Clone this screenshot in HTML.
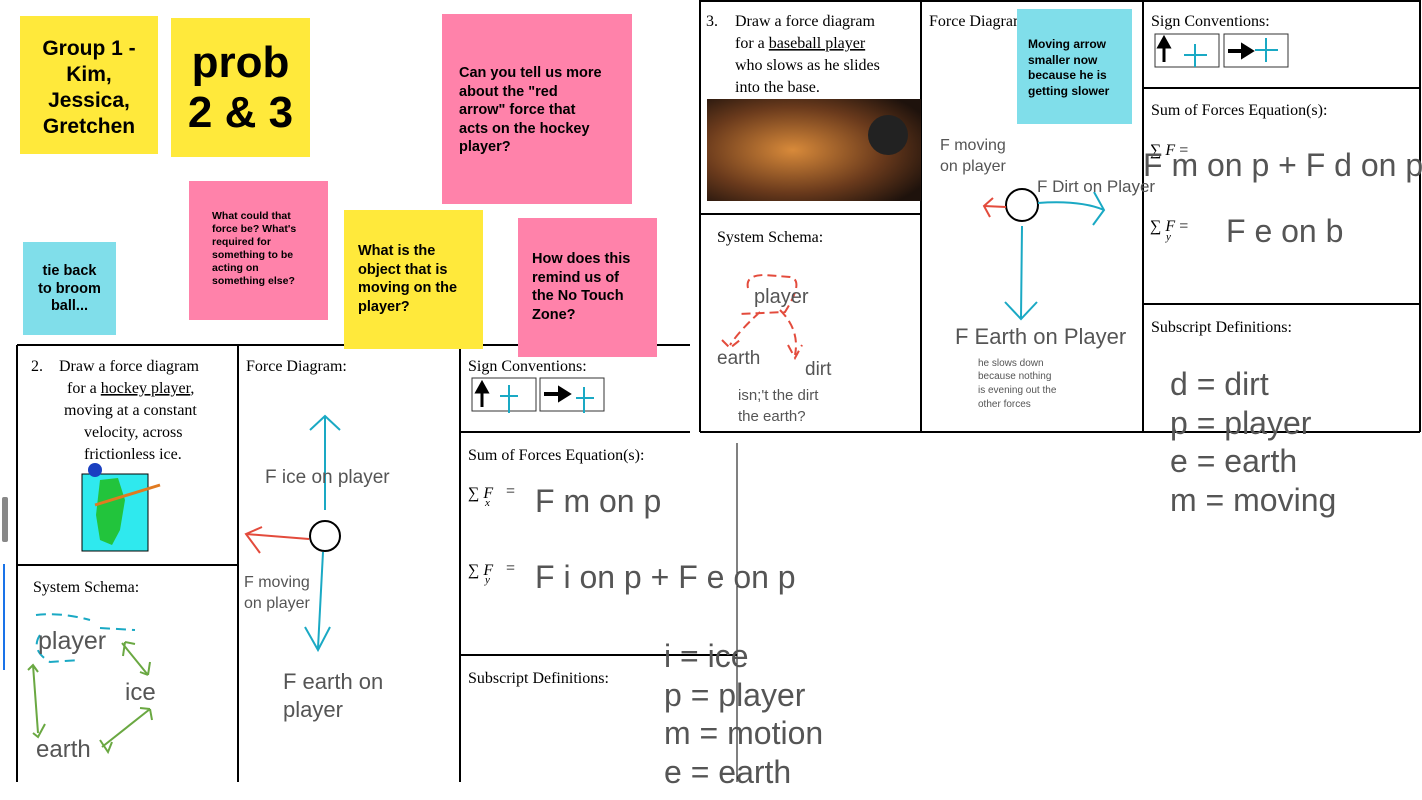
<!DOCTYPE html>
<html><head><meta charset="utf-8"><style>
html,body{margin:0;padding:0;background:#fff;}
body{width:1422px;height:800px;overflow:hidden;position:relative;font-family:"Liberation Sans",sans-serif;}
.n{position:absolute;font-weight:bold;color:#000;box-sizing:border-box;white-space:nowrap;}
</style></head><body>
<svg width="1422" height="800" style="position:absolute;left:0;top:0" font-family="Liberation Sans, sans-serif">
<g stroke="#000" stroke-width="2" fill="none">
<line x1="17" y1="345" x2="690" y2="345"/>
<line x1="17" y1="345" x2="17" y2="782"/>
<line x1="238" y1="345" x2="238" y2="782"/>
<line x1="460" y1="345" x2="460" y2="782"/>
<line x1="17" y1="565" x2="238" y2="565"/>
<line x1="460" y1="432" x2="690" y2="432"/>
<line x1="460" y1="655" x2="737" y2="655"/>
<line x1="737" y1="443" x2="737" y2="782" stroke-width="1"/>
</g>
<g font-family="Liberation Serif, serif" font-size="16" fill="#000">
<text x="31" y="371">2.</text>
<text x="59" y="371">Draw a force diagram</text>
<text x="67" y="393">for a <tspan text-decoration="underline">hockey player</tspan>,</text>
<text x="64" y="415">moving at a constant</text>
<text x="84" y="437">velocity, across</text>
<text x="84" y="459">frictionless ice.</text>
<text x="246" y="371">Force Diagram:</text>
<text x="468" y="371">Sign Conventions:</text>
<text x="468" y="460">Sum of Forces Equation(s):</text>
<text x="468" y="683">Subscript Definitions:</text>
<text x="33" y="592">System Schema:</text>
<text x="468" y="498">∑ <tspan font-style="italic">F</tspan></text><text x="485" y="506" font-size="11" font-style="italic">x</text><text x="506" y="496">=</text>
<text x="468" y="575">∑ <tspan font-style="italic">F</tspan></text><text x="485" y="583" font-size="11" font-style="italic">y</text><text x="506" y="573">=</text>
</g>
<g stroke="#333" fill="none"><rect x="472" y="378" width="64" height="33"/><rect x="540" y="378" width="64" height="33"/></g>
<path d="M482 407 V390 M477 392 L482 383 L487 392Z" stroke="#000" stroke-width="3" fill="#000"/>
<path d="M544 394 H562 M560 389 L568 394 L560 399Z" stroke="#000" stroke-width="4" fill="#000"/>
<g stroke="#1aa9c4" stroke-width="2"><line x1="500" y1="396" x2="518" y2="396"/><line x1="509" y1="385" x2="509" y2="413"/><line x1="576" y1="398" x2="594" y2="398"/><line x1="584" y1="387" x2="584" y2="413"/></g>
<rect x="82" y="474" width="66" height="77" fill="#2fe9ee" stroke="#000"/>
<path d="M100 480 L118 478 L125 500 L120 530 L112 545 L100 540 L96 515 Z" fill="#22c43c"/>
<circle cx="95" cy="470" r="7" fill="#1a3fc0"/>
<line x1="95" y1="505" x2="160" y2="485" stroke="#e07a20" stroke-width="3"/>
<g fill="none" stroke-width="2">
<circle cx="325" cy="536" r="15" stroke="#000"/>
<path d="M325 510 V416 M310 430 L325 416 L340 430" stroke="#1aa9c4"/>
<path d="M323 552 L318 648 M305 627 L318 650 L330 627" stroke="#1aa9c4"/>
<path d="M309 539 L246 534 M262 527 L246 534 L260 553" stroke="#e34b3c"/>
<path d="M36 615 Q60 612 90 620 M40 635 Q30 650 50 662 L80 660 M100 628 L135 630" stroke="#1aa9c4" stroke-dasharray="10 6"/>
<path d="M122 643 L148 675 M125 642 L123 656 M125 642 L135 644 M148 675 L140 672 M148 675 L150 662" stroke="#6aa842"/>
<path d="M33 665 L38 733 M28 670 L33 665 L38 672 M33 733 L38 737 L45 724" stroke="#6aa842"/>
<path d="M102 747 L150 709 M100 740 L108 752 L112 742 M150 709 L140 708 M150 709 L152 720" stroke="#6aa842"/>
</g>
<g fill="#555">
<text x="265" y="483" font-size="19">F ice on player</text>
<text x="244" y="587" font-size="16">F moving</text>
<text x="244" y="608" font-size="16">on player</text>
<text x="283" y="689" font-size="22">F earth on</text>
<text x="283" y="717" font-size="22">player</text>
<text x="38" y="649" font-size="25">player</text>
<text x="125" y="700" font-size="24">ice</text>
<text x="36" y="757" font-size="24">earth</text>
<text x="535" y="512" font-size="32">F m on p</text>
<text x="535" y="588" font-size="32">F i on p + F e on p</text>
<text x="664" y="667" font-size="32">i = ice</text>
<text x="664" y="706" font-size="32">p = player</text>
<text x="664" y="744" font-size="32">m = motion</text>
<text x="664" y="783" font-size="32">e = earth</text>
</g>
<rect x="2" y="497" width="6" height="45" fill="#888" rx="2"/>
<line x1="4" y1="564" x2="4" y2="670" stroke="#1a73e8" stroke-width="2"/>

<g stroke="#000" stroke-width="2" fill="none">
<line x1="700" y1="1" x2="1420" y2="1"/>
<line x1="700" y1="0" x2="700" y2="432"/>
<line x1="921" y1="0" x2="921" y2="432"/>
<line x1="1143" y1="0" x2="1143" y2="432"/>
<line x1="1420" y1="0" x2="1420" y2="432"/>
<line x1="700" y1="214" x2="921" y2="214"/>
<line x1="1143" y1="88" x2="1420" y2="88"/>
<line x1="1143" y1="304" x2="1420" y2="304"/>
<line x1="700" y1="432" x2="1420" y2="432"/>
</g>
<g font-family="Liberation Serif, serif" font-size="16" fill="#000">
<text x="706" y="26">3.</text>
<text x="735" y="26">Draw a force diagram</text>
<text x="735" y="48">for a <tspan text-decoration="underline">baseball player</tspan></text>
<text x="735" y="70">who slows as he slides</text>
<text x="735" y="92">into the base.</text>
<text x="929" y="26">Force Diagram:</text>
<text x="1151" y="26">Sign Conventions:</text>
<text x="1151" y="115">Sum of Forces Equation(s):</text>
<text x="1151" y="332">Subscript Definitions:</text>
<text x="717" y="242">System Schema:</text>
<text x="1150" y="155">∑ <tspan font-style="italic">F</tspan>  =</text>
<text x="1150" y="231">∑ <tspan font-style="italic">F</tspan>  =</text><text x="1166" y="240" font-size="11" font-style="italic">y</text>
</g>
<g stroke="#333" fill="none"><rect x="1155" y="34" width="64" height="33"/><rect x="1224" y="34" width="64" height="33"/></g>
<path d="M1164 62 V45 M1159 47 L1164 38 L1169 47Z" stroke="#000" stroke-width="3" fill="#000"/>
<path d="M1228 51 H1245 M1243 46 L1251 51 L1243 56Z" stroke="#000" stroke-width="4" fill="#000"/>
<g stroke="#1aa9c4" stroke-width="2"><line x1="1184" y1="55" x2="1207" y2="55"/><line x1="1195" y1="44" x2="1195" y2="67"/><line x1="1255" y1="50" x2="1278" y2="50"/><line x1="1266" y1="38" x2="1266" y2="62"/></g>
<defs><radialGradient id="g" cx="0.4" cy="0.5" r="0.7"><stop offset="0" stop-color="#d88a3a"/><stop offset="0.6" stop-color="#6a3a1c"/><stop offset="1" stop-color="#1e120c"/></radialGradient></defs>
<rect x="707" y="99" width="214" height="102" fill="url(#g)"/>
<circle cx="888" cy="135" r="20" fill="#222"/>
<g fill="none" stroke-width="2">
<circle cx="1022" cy="205" r="16" stroke="#000"/>
<path d="M1038 203 Q1080 200 1104 210 M1094 192 L1104 210 L1093 225" stroke="#1aa9c4"/>
<path d="M1006 207 L984 206 M993 198 L984 206 L990 217" stroke="#e34b3c"/>
<path d="M1022 226 L1021 318 M1005 302 L1021 319 L1037 302" stroke="#1aa9c4"/>
<path d="M748 288 Q745 275 765 275 L790 277 Q805 280 785 312 L740 314 M760 312 Q740 330 730 345 M722 340 L730 348 L740 340 M780 310 Q800 330 795 355 M788 345 L795 358 L802 345" stroke="#e34b3c" stroke-dasharray="9 5"/>
</g>
<g fill="#555">
<text x="940" y="150" font-size="16">F moving</text>
<text x="940" y="171" font-size="16">on player</text>
<text x="1037" y="192" font-size="17">F Dirt on Player</text>
<text x="955" y="344" font-size="22">F Earth on Player</text>
<text x="978" y="366" font-size="10">he slows down</text>
<text x="978" y="379" font-size="10">because nothing</text>
<text x="978" y="393" font-size="10">is evening out the</text>
<text x="978" y="407" font-size="10">other forces</text>
<text x="754" y="303" font-size="20">player</text>
<text x="717" y="364" font-size="19">earth</text>
<text x="805" y="375" font-size="19">dirt</text>
<text x="738" y="400" font-size="15">isn;'t the dirt</text>
<text x="738" y="421" font-size="15">the earth?</text>
<text x="1143" y="176" font-size="32">F m on p + F d on p</text>
<text x="1226" y="242" font-size="32">F e on b</text>
<text x="1170" y="395" font-size="32">d = dirt</text>
<text x="1170" y="434" font-size="32">p = player</text>
<text x="1170" y="472" font-size="32">e = earth</text>
<text x="1170" y="511" font-size="32">m = moving</text>
</g>
</svg>

<div class="n" style="left:20px;top:16px;width:138px;height:138px;background:#ffe93b;font-size:21px;text-align:center;padding-top:20px;line-height:26px">Group 1 -<br>Kim,<br>Jessica,<br>Gretchen</div>
<div class="n" style="left:171px;top:18px;width:139px;height:139px;background:#ffe93b;font-size:44px;text-align:center;padding-top:20px;line-height:50px">prob<br>2 &amp; 3</div>
<div class="n" style="left:442px;top:14px;width:190px;height:190px;background:#ff82aa;font-size:14.5px;padding:50px 0 0 17px;line-height:18.5px">Can you tell us more<br>about the "red<br>arrow" force that<br>acts on the hockey<br>player?</div>
<div class="n" style="left:189px;top:181px;width:139px;height:139px;background:#ff82aa;font-size:10.5px;padding:29px 0 0 23px;line-height:13px">What could that<br>force be? What's<br>required for<br>something to be<br>acting on<br>something else?</div>
<div class="n" style="left:344px;top:210px;width:139px;height:139px;background:#ffe93b;font-size:14.5px;padding:32px 0 0 14px;line-height:18.5px">What is the<br>object that is<br>moving on the<br>player?</div>
<div class="n" style="left:518px;top:218px;width:139px;height:139px;background:#ff82aa;font-size:14.5px;padding:32px 0 0 14px;line-height:18.5px">How does this<br>remind us of<br>the No Touch<br>Zone?</div>
<div class="n" style="left:23px;top:242px;width:93px;height:93px;background:#80deea;font-size:14.5px;text-align:center;padding-top:21px;line-height:17.5px">tie back<br>to broom<br>ball...</div>
<div class="n" style="left:1017px;top:9px;width:115px;height:115px;background:#80deea;font-size:12px;padding:28px 0 0 11px;line-height:15.5px">Moving arrow<br>smaller now<br>because he is<br>getting slower</div>
</body></html>
